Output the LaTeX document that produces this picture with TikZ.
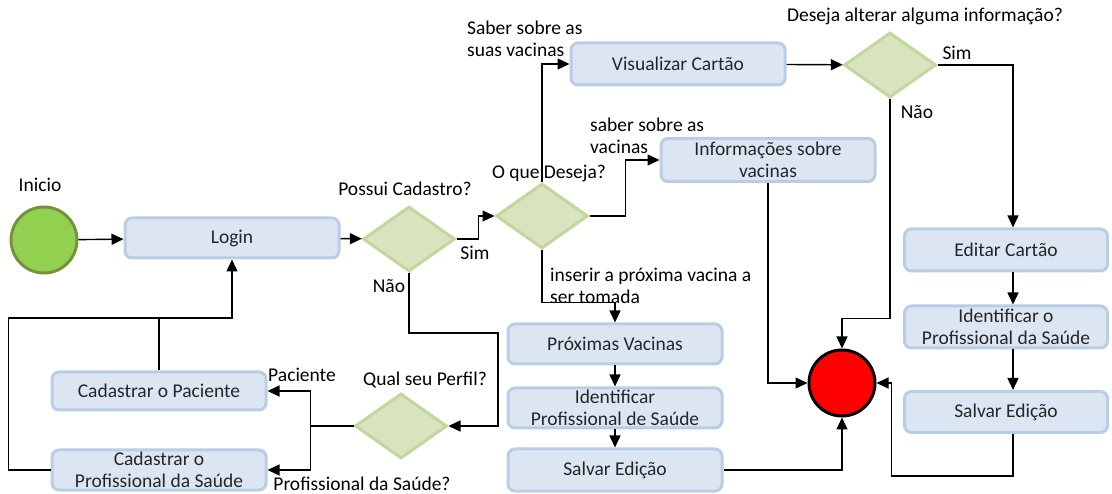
\documentclass[tikz,border=0pt]{standalone}
\usepackage{fontspec}
\setmainfont{Carlito}
\usepackage{tikz}
\usetikzlibrary{shapes.geometric,arrows.meta,calc}
\definecolor{boxfill}{HTML}{DCE6F2}
\definecolor{boxline}{HTML}{B9CDE5}
\definecolor{decfill}{HTML}{D7E4BD}
\definecolor{decline}{HTML}{C3D69B}
\definecolor{startfill}{HTML}{92D050}
\definecolor{startline}{HTML}{76923C}
\tikzstyle{task}=[draw=boxline, fill=boxfill, line width=3pt, rounded corners=7pt, minimum width=214pt, minimum height=40pt, align=center, inner sep=0pt, text=black!85]
\tikzstyle{choice}=[diamond, draw=decline, fill=decfill, line width=3pt, minimum width=92pt, minimum height=65pt, inner sep=0pt]
\tikzstyle{lbl}=[align=left, inner sep=0pt]
\tikzstyle{flow}=[line width=1.4pt, -{Triangle[length=12pt,width=11pt]}]
\tikzstyle{wire}=[line width=1.4pt]

\begin{document}
\begin{tikzpicture}[x=1pt,y=-1pt,font=\fontsize{19.5}{22}\selectfont]
\useasboundingbox (0,0) rectangle (1112,494);
\node[circle, draw=startline, fill=startfill, line width=3pt, minimum size=66pt, inner sep=0pt] (inicio) at (44,240) {};
\node (tInicio) at (40,185) {Inicio};
\node[task] (login) at (232,238) {Login};
\node[choice] (cadastro) at (409,239) {};
\node (tCadastro) at (405,189) {Possui Cadastro?};
\node[choice] (deseja) at (542,216) {};
\node (tDeseja) at (549,173) {O que Deseja?};
\node[task, minimum height=42pt] (cartao) at (678,64) {Visualizar Cartão};
\node[task, minimum height=43pt] (info) at (768,160) {Informações sobre\\vacinas};
\node[task] (proximas) at (615,344) {Próximas Vacinas};
\node[task] (ident) at (615,408) {Identificar\\Profissional de Saúde};
\node[task, minimum height=42pt] (salvar) at (615,470) {Salvar Edição};
\node[choice] (altera) at (890,65) {};
\node (tAltera) at (925,16) {Deseja alterar alguma informação?};
\node[task, minimum width=203pt, minimum height=42pt] (editar) at (1006,250) {Editar Cartão};
\node[task, minimum width=203pt, minimum height=42pt] (identOutro) at (1006,327) {Identificar o\\Profissional da Saúde};
\node[task, minimum width=203pt, minimum height=41pt] (salvarOutro) at (1006,412) {Salvar Edição};
\node[circle, draw, fill=red, line width=3pt, minimum size=66pt, inner sep=0pt] (fim) at (842,383) {};
\node[choice] (perfil) at (401,426) {};
\node (tPerfil) at (425,380) {Qual seu Perfil?};
\node[task, minimum height=38pt] (paciente) at (159,391) {Cadastrar o Paciente};
\node[task] (profissional) at (159,470) {Cadastrar o\\Profissional da Saúde};

\node[lbl, anchor=west] (tSaber) at (467,39) {Saber sobre as\\suas vacinas};
\node[lbl, anchor=west] (tInfo) at (590,136) {saber sobre as\\vacinas};
\node[lbl, anchor=west] (tInserir) at (550,286) {inserir a próxima vacina a\\ser tomada};
\node (tSim) at (475,253) {Sim};
\node (tNao) at (389,286) {Não};
\node (tSimAltera) at (957,53) {Sim};
\node (tNaoAltera) at (917,112) {Não};
\node (tPaciente) at (302,375) {Paciente};
\node (tProfissional) at (362,484) {Profissional da Saúde?};

\coordinate (volta) at (498,333);
\coordinate (juncao) at (159,318);

\draw[flow] (inicio) -- (login);
\draw[flow] (login) -- (cadastro);
\draw[flow] (cadastro.east) -- ++(22,0) |- (deseja.west);
\draw[flow] (deseja.north) |- (cartao.west);
\draw[flow] (deseja.east) -- ++(36,0) |- (info.west);
\draw[flow] (deseja.south) |- ($(proximas.north)+(0,-20)$) -- (proximas.north);
\draw[flow] (cartao) -- (altera);
\draw[flow] (altera.east) -| ([xshift=7pt]editar.north);
\draw[flow] (altera.south) |- ($(fim.north)+(0,-30)$) -- (fim.north);
\draw[flow] (info.south) |- (fim.west);
\draw[flow] (salvar.east) -| (fim.south);
\draw[flow] ([xshift=7pt]salvarOutro.south) -- ++(0,42) -| ($(fim.east)+(15,0)$) -- (fim.east);
\draw[flow] ([xshift=7pt]editar.south) -- ([xshift=7pt]identOutro.north);
\draw[flow] ([xshift=7pt]identOutro.south) -- ([xshift=7pt]salvarOutro.north);
\draw[flow] (proximas) -- (ident);
\draw[flow] (ident) -- (salvar);
\draw[flow] (cadastro.south) |- (volta) |- (perfil.east);
\draw[flow] (perfil.west) -- ++(-43,0) |- (paciente.east);
\draw[flow] (perfil.west) -- ++(-43,0) |- (profissional.east);
\draw[flow] (paciente.north) -- (juncao) -| (login.south);
\draw[wire] (profissional.west) -- ++(-42,0) |- (juncao);
\end{tikzpicture}
\end{document}
